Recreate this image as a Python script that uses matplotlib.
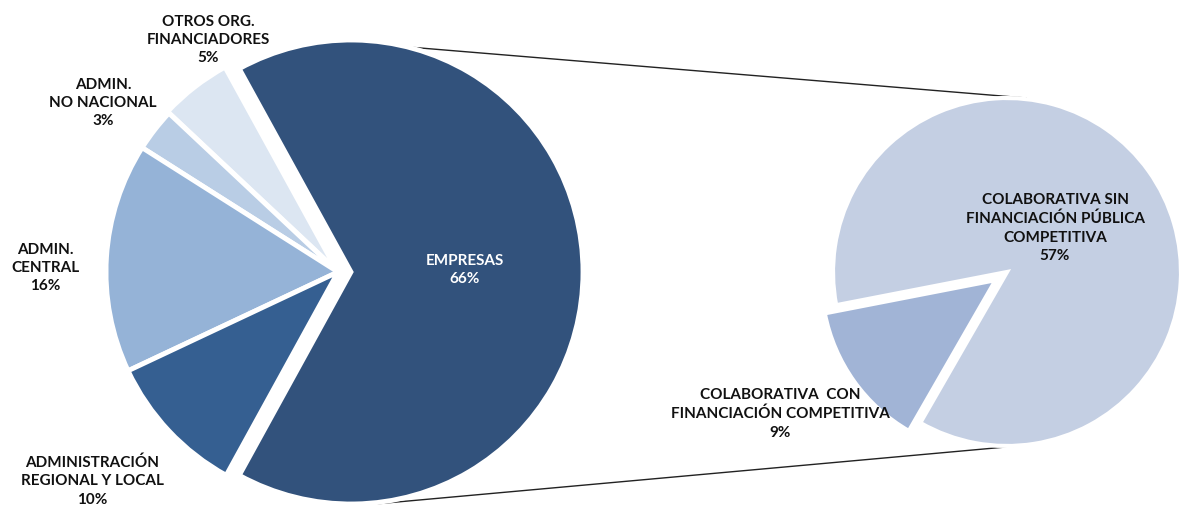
import matplotlib
matplotlib.use("Agg")
import matplotlib.pyplot as plt

plt.rcParams['font.family'] = ['Lato', 'DejaVu Sans']

# pastel principal (orden: empezando por EMPRESAS, sentido antihorario)
main_labels = ['EMPRESAS', 'OTROS ORG.\nFINANCIADORES', 'ADMIN.\nNO NACIONAL',
               'ADMIN.\nCENTRAL', 'ADMINISTRACIÓN\nREGIONAL Y LOCAL']
main_values = [66, 5, 3, 16, 10]
main_colors = ['#32527c', '#dce6f2', '#b9cde5', '#95b3d7', '#355f91']

# desglose de EMPRESAS
sub_labels = ['COLABORATIVA  CON\nFINANCIACIÓN COMPETITIVA',
              'COLABORATIVA SIN\nFINANCIACIÓN PÚBLICA\nCOMPETITIVA']
sub_values = [9, 57]
sub_colors = ['#a1b4d6', '#c4cfe3']

H = 510
fig = plt.figure(figsize=(11.82, 5.10), dpi=100)
ax = fig.add_axes([0, 0, 1, 1])

# lineas de conexion
ax.plot([372, 1026], [H - 45, H - 99], color='#222222', lw=1.0, zorder=1)
ax.plot([375, 1028], [H - 505, H - 446], color='#222222', lw=1.0, zorder=1)

# explode va en unidades de datos (px)
start = -360 * main_values[0] / 100 / 2
ax.pie(main_values, colors=main_colors, startangle=start, counterclock=True,
       center=(338, H - 273), radius=232, explode=[13, 2, 0, 0, 0],
       wedgeprops=dict(edgecolor='white', linewidth=3.5), frame=True)

ax.pie(sub_values, colors=sub_colors, startangle=191, counterclock=True,
       center=(1007, H - 273), radius=174, explode=[14, 0],
       wedgeprops=dict(edgecolor='white', linewidth=3), frame=True)

ax.set_xlim(0, 1182)
ax.set_ylim(0, H)
ax.set_aspect('equal')
ax.axis('off')

txt = dict(fontsize=11, fontweight='bold', ha='center', va='center',
           linespacing=1.4)

main_pos = [(465, 270), (208, 40), (103, 103), (45, 268), (92, 481)]
for lab, v, (x, y), i in zip(main_labels, main_values, main_pos, range(5)):
    c = 'white' if i == 0 else '#111111'
    ax.text(x, H - y, f'{lab}\n{v}%', color=c, **txt)

sub_pos = [(780, 414), (1055, 228)]
for lab, v, (x, y) in zip(sub_labels, sub_values, sub_pos):
    ax.text(x, H - y, f'{lab}\n{v}%', color='#111111', **txt)

fig.savefig('out.png', dpi=100)
